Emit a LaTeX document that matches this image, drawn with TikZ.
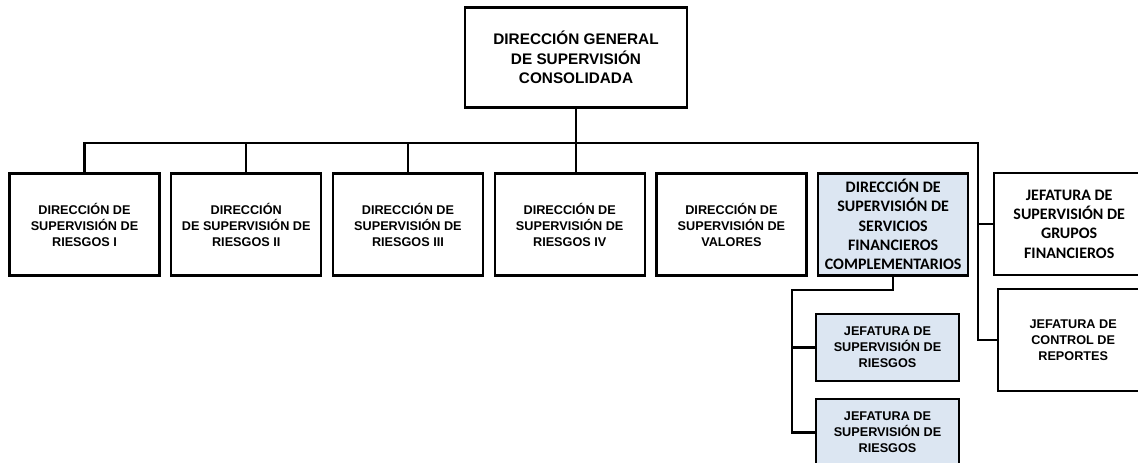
\documentclass[tikz,border=0pt]{standalone}
\usepackage{fontspec}
\setmainfont{Liberation Sans}
\newfontfamily\calibfont{Carlito}
\usepackage{tikz}
\usetikzlibrary{positioning}
\definecolor{paleblue}{RGB}{220,230,242}

\begin{document}
\begin{tikzpicture}[
      x=0.75pt, y=-0.75pt,
      unit/.style={draw, line width=1.8pt, minimum width=112.5pt,
                   minimum height=76.5pt, align=center, inner sep=1pt,
                   font=\fontsize{9.5}{12}\selectfont\bfseries},
      head/.style={unit, minimum width=166.5pt, minimum height=75pt,
                   font=\fontsize{11.5}{14.5}\selectfont\bfseries},
      sub/.style={unit, fill=paleblue, minimum width=107pt, minimum height=50pt},
      wide/.style={font=\calibfont\fontsize{12}{14.5}\selectfont\bfseries},
      conn/.style={line width=1.8pt},
    ]
    \useasboundingbox (0,0) rectangle (1138,462);

    % --- head ---
    \node[head] (top) at (576,57.5) {DIRECCIÓN GENERAL\\DE SUPERVISIÓN\\CONSOLIDADA};

    % --- direcciones ---
    \node[unit] (b1) at (84.5,224.5) {DIRECCIÓN DE\\SUPERVISIÓN DE\\RIESGOS I};
    \node[unit, right=7pt of b1] (b2) {DIRECCIÓN\\DE SUPERVISIÓN DE\\RIESGOS II};
    \node[unit, right=7pt of b2] (b3) {DIRECCIÓN DE\\SUPERVISIÓN DE\\RIESGOS III};
    \node[unit, right=7pt of b3] (b4) {DIRECCIÓN DE\\SUPERVISIÓN DE\\RIESGOS IV};
    \node[unit, right=7pt of b4] (b5) {DIRECCIÓN DE\\SUPERVISIÓN DE\\VALORES};
    \node[unit, wide, fill=paleblue, right=7pt of b5] (b6)
      {DIRECCIÓN DE\\SUPERVISIÓN DE\\SERVICIOS\\FINANCIEROS\\COMPLEMENTARIOS};

    % --- jefaturas ---
    \node[unit, wide, anchor=west] (grp) at (993,224)
      {JEFATURA DE\\SUPERVISIÓN DE\\GRUPOS\\FINANCIEROS};
    \node[unit, anchor=west] (ctl) at (997,340) {JEFATURA DE\\CONTROL DE\\REPORTES};
    \node[sub] (j1) at (887.5,347.5) {JEFATURA DE\\SUPERVISIÓN DE\\RIESGOS};
    \node[sub, below=12pt of j1] (j2) {JEFATURA DE\\SUPERVISIÓN DE\\RIESGOS};

    % --- lines ---
    \coordinate (rt) at (978,143);
    \coordinate (fork) at (792,290);
    \draw[conn] (b1.north) |- (rt) |- (ctl.west);
    \draw[conn] (b2.north) -- (b2.north |- rt);
    \draw[conn] (b3.north) -- (b3.north |- rt);
    \draw[conn] (top.south) -- (top.south |- b4.north);
    \draw[conn] (rt |- grp.west) -- (grp.west);
    \draw[conn] (b6.south) |- (fork) |- (j2.west);
    \draw[conn] (fork |- j1.west) -- (j1.west);
  \end{tikzpicture}
\end{document}
